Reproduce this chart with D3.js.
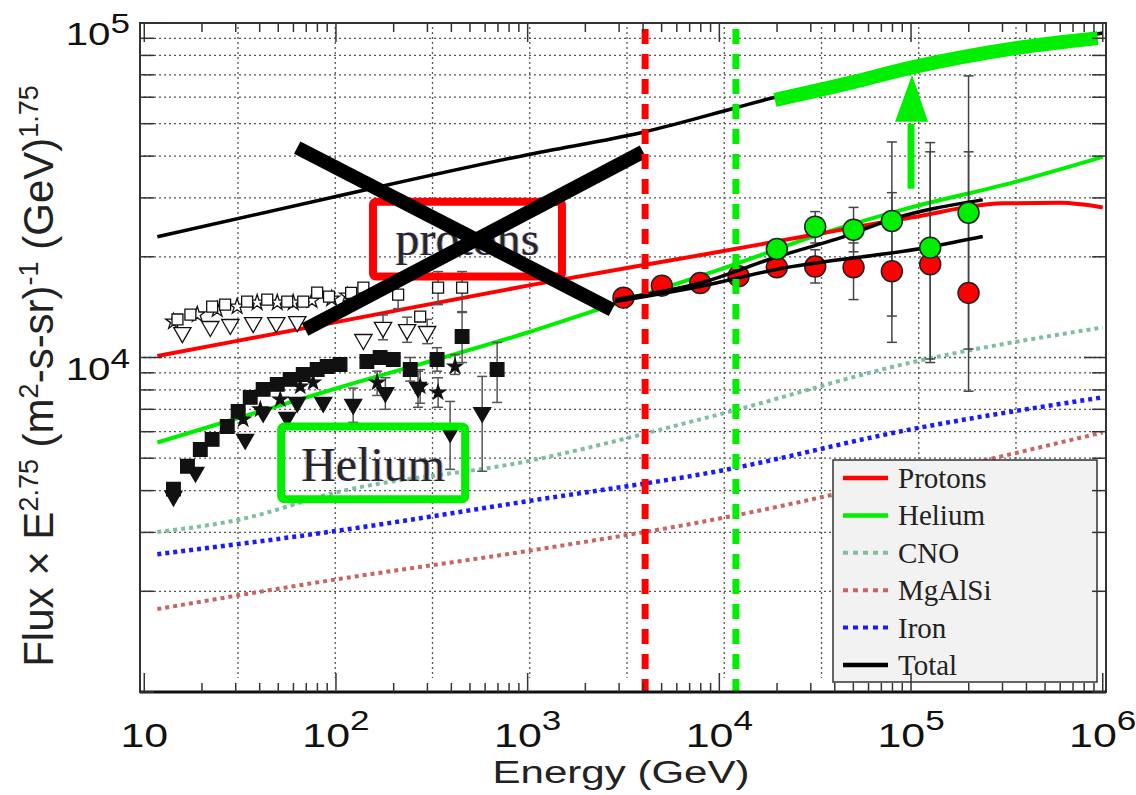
<!DOCTYPE html>
<html>
<head>
<meta charset="utf-8">
<script src="https://cdn.jsdelivr.net/npm/d3@7"></script>
<style>
  html, body { margin: 0; padding: 0; background: #fff; }
  svg { display: block; }
  .sans { font-family: "Liberation Sans", Arial, Helvetica, sans-serif; }
  .serif { font-family: "Liberation Serif", "Times New Roman", serif; }
</style>
</head>
<body>
<svg id="chart" width="1136" height="795">
  <defs>
    <filter id="fringe" x="-5%" y="-10%" width="110%" height="120%">
      <feOffset in="SourceAlpha" dx="-1.3" dy="0" result="a"/>
      <feFlood flood-color="#d08030" flood-opacity="0.6"/>
      <feComposite in2="a" operator="in" result="warm"/>
      <feOffset in="SourceAlpha" dx="1.3" dy="0" result="b"/>
      <feFlood flood-color="#3070ff" flood-opacity="0.6"/>
      <feComposite in2="b" operator="in" result="cool"/>
      <feMerge>
        <feMergeNode in="warm"/>
        <feMergeNode in="cool"/>
        <feMergeNode in="SourceGraphic"/>
      </feMerge>
    </filter>
  </defs>
</svg>
<script>
// ---------------- axis ticks ----------------
const energyTicks = [10, 1e2, 1e3, 1e4, 1e5, 1e6];
const energyTickLabels = [["10", ""], ["10", "2"], ["10", "3"], ["10", "4"], ["10", "5"], ["10", "6"]];
const fluxTicks = [1e4, 1e5];
const fluxTickLabels = [["10", "4"], ["10", "5"]];

// ---------------- model spectra  [energy GeV, flux x E^2.75] ----------------
const protonModel = [[11.7, 10100], [100, 12760], [1000, 16400], [1e4, 20700], [3e4, 23200], [1e5, 26200], [3e5, 28900], [6e5, 29000], [1e6, 28100]];
const heliumModel = [[11.7, 5570], [100, 8080], [1000, 11880], [3000, 14600], [1e4, 18300], [3.16e4, 23100], [1e5, 28100], [3.5e5, 33500], [1e6, 39800]];
const cnoModel = [[11.7, 3010], [31.6, 3280], [100, 3950], [1000, 4900], [1e4, 6760], [1e5, 9660], [1e6, 12300]];
const mgalsiModel = [[11.7, 1770], [100, 2170], [1000, 2640], [1e4, 3300], [1e5, 4390], [1e6, 5970]];
const ironModel = [[11.7, 2580], [100, 3030], [1000, 3720], [1e4, 4580], [1e5, 6100], [1e6, 7600]];
const totalModel = [[11.7, 22970], [100, 30300], [1000, 40400], [4100, 47300], [12050, 55700], [19800, 60100], [48000, 66000], [1e5, 73000], [3.5e5, 84000], [1e6, 93300]];
const totalUpper = [[19500, 58900], [48000, 66200], [98600, 73400], [351600, 84100], [942000, 90100]];

// ---------------- high-energy measurements ----------------
const highEnergy = [3162, 5012, 7943, 12589, 19953, 31623, 50119, 79433, 125893, 199526];
const protonFlux = [15100, 16400, 16700, 17500, 18600, 18700, 18600, 18100, 19000, 15600];
const protonLow  = [null, null, null, null, null, 16700, 14900, 11100, 9900, 7930];
const protonHigh = [null, null, null, null, null, 21000, 22000, 31100, 41200, 41200];
const heliumEnergy = [19953, 31623, 50119, 79433, 125893, 199526];
const heliumFlux = [21100, 24600, 24100, 25600, 21300, 27100];
const heliumLow  = [null, 22000, 20700, 13300, 9660, 10600];
const heliumHigh = [null, 27300, 28100, 44100, 43900, 69500];
const fitUpper = [[2860, 14900], [7920, 16700], [19500, 19900], [48000, 23300], [77500, 25800], [236600, 29600]];
const fitLower = [[2860, 14700], [7920, 16300], [19500, 18300], [125000, 21400], [236600, 23000]];

// ---------------- low-energy measurements ----------------
const openSquares = [[14.9, 12990], [17.4, 13440], [22.6, 14200], [26.4, 14390], [34.4, 14690], [43.8, 14900], [55.7, 14690], [67.5, 14690], [79.8, 15630], [92, 15200], [120, 15600], [139, 16180], [211, 15420], [275, 13260], [341, 16180], [455, 16180]];
const openSquareErr = [[211, 14000, 17000], [341, 14390, 18070], [455, 13630, 18070]];
const openTriangles = [[15.8, 11870], [22.1, 12380], [28.1, 12550], [37.0, 12720], [48.8, 12720], [62.8, 12800], [139, 11320], [176, 12300], [235, 12120], [299, 11960]];
const openTriangleErr = [[176, 11300, 13400], [235, 11100, 13200], [299, 11000, 13000]];
const openStars = [[14.2, 12800], [18.9, 13440], [24.0, 13910], [30.5, 14200], [38.8, 14590], [49.4, 14590], [59.8, 14590], [75, 14800], [95, 15000], [115, 15300]];
const filledSquares = [[14.2, 4040], [16.8, 4730], [19.6, 5310], [22.6, 5690], [27.1, 6220], [30.9, 6900], [35.7, 7600], [41.7, 8030], [49.4, 8310], [57.7, 8600], [67.5, 8900], [79.8, 9210], [90.0, 9400], [105, 9530], [145, 9730], [170, 10000], [199, 9860], [244, 9210], [337, 9860], [455, 11560], [693, 9210]];
const filledSquareErr = [[244, 8500, 10000], [337, 9100, 10700], [455, 9660, 13710], [693, 7340, 11090]];
const filledTriangles = [[14.2, 3850], [18.5, 4540], [33.6, 5690], [41.7, 6850], [55.7, 6620], [62.8, 7340], [85.8, 7340], [123, 7240], [181, 7860], [268, 8140], [394, 5970], [579, 6850]];
const filledTriangleErr = [[123, 6400, 8100], [181, 7000, 8700], [268, 7100, 9100], [394, 4630, 7390], [579, 4570, 8780]];
const filledStars = [[32.8, 6530], [40.3, 7000], [51.2, 7490], [65.1, 8190], [76.0, 8420], [164, 8420], [275, 8190], [341, 7860], [418, 9400]];
const filledStarErr = [[164, 7700, 9100], [275, 7300, 9200], [341, 7100, 8700], [418, 8900, 10200]];

// ---------------- annotations ----------------
const knees = [{ energy: 4100, color: "#ff0000" }, { energy: 12200, color: "#00ee00" }];
const protonsBox = { e0: 156, e1: 1510, f0: 17450, f1: 29220, label: "protons", labelFlux: 20300 };
const heliumBox = { e0: 51.8, e1: 472, f0: 3770, f1: 6220, label: "Helium", labelFlux: 4266 };
const crossLines = [[[62.8, 42400], [2754, 13900]], [[69.0, 12120], [4000, 41200]]];
const arrow = { energy: 1e5, from: 31960, to: 50640, tip: 70000 };

const legendNames = ["Protons", "Helium", "CNO", "MgAlSi", "Iron", "Total"];
const legendColors = ["#ff0000", "#00ee00", "#7fbf9f", "#c86464", "#1a1aff", "#000000"];
const legendDashed = [false, false, true, true, true, false];

// ---------------- layout ----------------
const svg = d3.select("#chart");
const plot = { left: 140, right: 1106, top: 23, bottom: 692 };
const x = d3.scaleLog().domain([9.5, 1.04e6]).range([plot.left, plot.right]);
const y = d3.scaleLog().domain([1000, 1e5]).range([plot.bottom, plot.top]);
// reference grid of the underlying model frame (half-decade spacing)
const gridX = d3.scaleLog().domain([10 ** 1.5, 10 ** 5.5]).range([238, 1016]);
const gridEnergies = d3.range(1.5, 5.51, 0.5).map(p => 10 ** p);

const minorEnergies = [];
for (let p = 1; p < 6; p++) for (let m = 1; m < 10; m++) minorEnergies.push(m * 10 ** p);
minorEnergies.push(1e6);
const minorFluxes = [];
for (let p = 3; p < 5; p++) for (let m = 1; m < 10; m++) minorFluxes.push(m * 10 ** p);
minorFluxes.push(1e5);

const line = d3.line().x(d => x(d[0])).y(d => y(d[1])).curve(d3.curveMonotoneX);
const straight = d3.line().x(d => x(d[0])).y(d => y(d[1]));

// ---------------- grid ----------------
const grid = svg.append("g").attr("stroke", "#555").attr("stroke-width", 1.3).attr("stroke-dasharray", "2,3");
grid.selectAll("line.h").data(minorFluxes.filter(f => f > 1000 && f < 1e5)).join("line")
  .attr("x1", plot.left + 4).attr("x2", plot.right - 4)
  .attr("y1", d => y(d)).attr("y2", d => y(d));
grid.selectAll("line.v").data(gridEnergies).join("line")
  .attr("x1", d => gridX(d)).attr("x2", d => gridX(d))
  .attr("y1", plot.top + 4).attr("y2", plot.bottom - 14);

// ---------------- model curves ----------------
function drawModel(data, color, width, dash) {
  svg.append("path").datum(data).attr("d", line)
    .attr("fill", "none").attr("stroke", color).attr("stroke-width", width)
    .attr("stroke-dasharray", dash || null);
}
drawModel(mgalsiModel, "#c86464", 4, "4,4");
drawModel(ironModel, "#1a1aff", 4.5, "4,4");
drawModel(cnoModel, "#7fbf9f", 4, "4,4");
drawModel(heliumModel, "#00ee00", 4);
drawModel(protonModel, "#ff0000", 4);
drawModel(totalModel, "#000000", 3.5);

// ---------------- error bars ----------------
function errorBars(rows, color) {
  const g = svg.append("g").attr("stroke", color || "#555").attr("stroke-width", 1.5);
  rows.forEach(([e, lo, hi]) => {
    const cx = x(e);
    g.append("line").attr("x1", cx).attr("x2", cx).attr("y1", y(lo)).attr("y2", y(hi));
    g.append("line").attr("x1", cx - 5).attr("x2", cx + 5).attr("y1", y(lo)).attr("y2", y(lo));
    g.append("line").attr("x1", cx - 5).attr("x2", cx + 5).attr("y1", y(hi)).attr("y2", y(hi));
  });
}
errorBars(openSquareErr);
errorBars(openTriangleErr);
errorBars(filledSquareErr);
errorBars(filledTriangleErr);
errorBars(filledStarErr);
const highErr = [];
highEnergy.forEach((e, i) => { if (protonLow[i] != null) highErr.push([e, protonLow[i], protonHigh[i]]); });
heliumEnergy.forEach((e, i) => { if (heliumLow[i] != null) highErr.push([e, heliumLow[i], heliumHigh[i]]); });
errorBars(highErr, "#444");

// ---------------- low-energy markers ----------------
function markers(data, type, size, fill, rotate) {
  svg.append("g").selectAll("path").data(data).join("path")
    .attr("d", d3.symbol().type(type).size(size))
    .attr("transform", d => `translate(${x(d[0])},${y(d[1])})${rotate ? " rotate(180)" : ""}`)
    .attr("fill", fill).attr("stroke", "#111").attr("stroke-width", 1.3);
}
markers(openStars, d3.symbolStar, 75, "#fff");
markers(openSquares, d3.symbolSquare, 120, "#fff");
markers(openTriangles, d3.symbolTriangle, 130, "#fff", true);
markers(filledStars, d3.symbolStar, 65, "#111");
markers(filledTriangles, d3.symbolTriangle, 125, "#111", true);
markers(filledSquares, d3.symbolSquare, 185, "#111");

// ---------------- high-energy markers and fits ----------------
svg.append("g").selectAll("circle").data(highEnergy).join("circle")
  .attr("cx", d => x(d)).attr("cy", (d, i) => y(protonFlux[i])).attr("r", 10.5)
  .attr("fill", "#ff0000").attr("stroke", "#222").attr("stroke-width", 1.5);
[fitUpper, fitLower].forEach(f => {
  svg.append("path").datum(f).attr("d", line).attr("fill", "none")
    .attr("stroke", "#000").attr("stroke-width", 3.5);
});
svg.append("g").selectAll("circle").data(heliumEnergy).join("circle")
  .attr("cx", d => x(d)).attr("cy", (d, i) => y(heliumFlux[i])).attr("r", 10.5)
  .attr("fill", "#00ee00").attr("stroke", "#222").attr("stroke-width", 1.5);

// ---------------- annotation boxes ----------------
function labelBox(b, color) {
  svg.append("rect")
    .attr("x", x(b.e0)).attr("y", y(b.f1))
    .attr("width", x(b.e1) - x(b.e0)).attr("height", y(b.f0) - y(b.f1))
    .attr("rx", 3).attr("fill", "none").attr("stroke", color).attr("stroke-width", 8);
  svg.append("text").attr("class", "serif")
    .attr("x", (x(b.e0) + x(b.e1)) / 2).attr("y", y(b.labelFlux)).attr("text-anchor", "middle")
    .attr("filter", "url(#fringe)")
    .style("font-size", "48px").attr("fill", "#262626").text(b.label);
}
labelBox(protonsBox, "#ff0000");
labelBox(heliumBox, "#00ee00");

crossLines.forEach(l => {
  svg.append("path").datum(l).attr("d", straight)
    .attr("stroke", "#000").attr("stroke-width", 14).attr("fill", "none");
});

// ---------------- knee markers ----------------
knees.forEach(k => {
  svg.append("line").attr("x1", x(k.energy)).attr("x2", x(k.energy))
    .attr("y1", plot.top + 6).attr("y2", plot.bottom)
    .attr("stroke", k.color).attr("stroke-width", 7).attr("stroke-dasharray", "15,10");
});

// ---------------- upper total and arrow ----------------
svg.append("path").datum(totalUpper).attr("d", line).attr("fill", "none")
  .attr("stroke", "#00ee00").attr("stroke-width", 14);
svg.append("line").attr("x1", x(arrow.energy)).attr("x2", x(arrow.energy))
  .attr("y1", y(arrow.from)).attr("y2", y(arrow.to) + 2)
  .attr("stroke", "#00ee00").attr("stroke-width", 7);
{
  const ax = x(arrow.energy), base = y(arrow.to), tip = y(arrow.tip);
  svg.append("path").attr("d", `M${ax - 16},${base}L${ax + 17},${base}L${ax + 1},${tip}Z`).attr("fill", "#00ee00");
}

// ---------------- legend ----------------
const lg = svg.append("g").attr("transform", "translate(833,460)");
lg.append("rect").attr("width", 264).attr("height", 222).attr("fill", "#f2f2f2")
  .attr("stroke", "#333").attr("stroke-width", 1.5);
legendNames.forEach((name, i) => {
  const ry = 18 + i * 37.4;
  lg.append("line").attr("x1", 10).attr("x2", 55).attr("y1", ry).attr("y2", ry)
    .attr("stroke", legendColors[i]).attr("stroke-width", legendDashed[i] ? 4 : 4.5)
    .attr("stroke-dasharray", legendDashed[i] ? "5,5" : null);
  lg.append("text").attr("class", "serif").attr("x", 65).attr("y", ry + 10)
    .style("font-size", "29px").attr("fill", "#222").text(name);
});

// ---------------- frame and ticks ----------------
const ax = svg.append("g").attr("stroke", "#333");
ax.append("rect").attr("x", plot.left).attr("y", plot.top).attr("width", plot.right - plot.left)
  .attr("height", plot.bottom - plot.top).attr("fill", "none").attr("stroke-width", 2);
ax.append("line").attr("x1", plot.left).attr("x2", plot.right).attr("y1", plot.bottom).attr("y2", plot.bottom)
  .attr("stroke", "#111").attr("stroke-width", 3);
minorEnergies.forEach(e => {
  const major = energyTicks.includes(e);
  const len = major ? 19 : 9;
  ax.append("line").attr("x1", x(e)).attr("x2", x(e)).attr("y1", plot.bottom).attr("y2", plot.bottom - len).attr("stroke-width", 1.5);
  ax.append("line").attr("x1", x(e)).attr("x2", x(e)).attr("y1", plot.top).attr("y2", plot.top + len).attr("stroke-width", 1.5);
});
minorFluxes.forEach(f => {
  const major = fluxTicks.includes(f);
  const len = major ? 22 : 14;
  ax.append("line").attr("x1", plot.left).attr("x2", plot.left + len).attr("y1", y(f)).attr("y2", y(f)).attr("stroke-width", 1.5);
  ax.append("line").attr("x1", plot.right).attr("x2", plot.right - len).attr("y1", y(f)).attr("y2", y(f)).attr("stroke-width", 1.5);
});

// ---------------- tick labels ----------------
energyTicks.forEach((e, i) => {
  const t = svg.append("text").attr("class", "sans").attr("text-anchor", "middle")
    .attr("transform", `translate(${x(e)},747) scale(1.3,1)`).attr("fill", "#111");
  t.append("tspan").style("font-size", "33px").text(energyTickLabels[i][0]);
  if (energyTickLabels[i][1]) t.append("tspan").attr("dy", -17).style("font-size", "27px").text(energyTickLabels[i][1]);
});
fluxTicks.forEach((f, i) => {
  const t = svg.append("text").attr("class", "sans").attr("text-anchor", "end")
    .attr("transform", `translate(130,${y(f) + 22}) scale(1.3,1)`).attr("fill", "#111");
  t.append("tspan").style("font-size", "31px").text(fluxTickLabels[i][0]);
  t.append("tspan").attr("dy", -12).style("font-size", "27px").text(fluxTickLabels[i][1]);
});

// ---------------- axis titles ----------------
svg.append("text").attr("class", "sans").attr("x", 621).attr("y", 783).attr("text-anchor", "middle")
  .attr("textLength", 257).attr("lengthAdjust", "spacingAndGlyphs")
  .style("font-size", "31px").attr("fill", "#222").text("Energy (GeV)");

const yt = svg.append("text").attr("class", "sans").attr("text-anchor", "middle")
  .attr("transform", "translate(53,376) rotate(-90)").attr("fill", "#222").style("font-size", "42px");
[["Flux × E", 0], ["2.75", 1], [" (m", 0], ["2", 1], ["-s-sr)", 0], ["-1", 1], [" (GeV)", 0], ["1.75", 1]]
  .forEach(([s, sup], i, arr) => {
    const prevSup = i > 0 ? arr[i - 1][1] : 0;
    const ts = yt.append("tspan").text(s);
    if (sup) ts.attr("dy", -15).style("font-size", "27px");
    else if (prevSup) ts.attr("dy", 15);
  });
</script>
</body>
</html>
